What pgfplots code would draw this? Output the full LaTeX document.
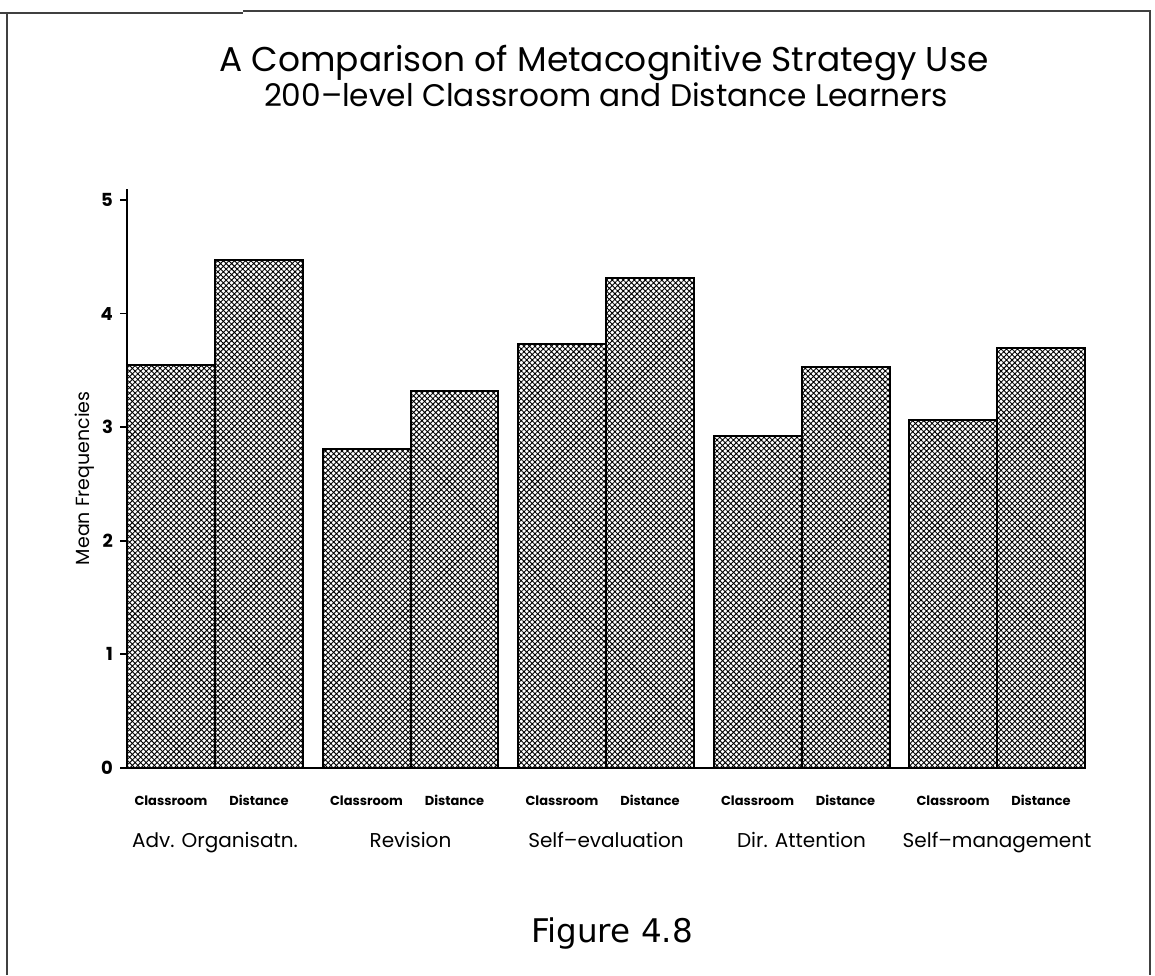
\documentclass[border=0pt]{standalone}
\usepackage{fontspec}
\setmainfont{Poppins}
\newfontfamily\figfont{DejaVu Sans}
\usepackage{pgfplots}
\usepackage{pgfplotstable}
\pgfplotsset{compat=1.18}
\usetikzlibrary{patterns.meta}

\pgfplotstableread{
x cls dst
0 3.55 4.47
1 2.81 3.32
2 3.73 4.31
3 2.92 3.53
4 3.06 3.70
}\datatable

\newcommand{\catfont}{\mdseries\fontsize{10}{12}\selectfont}

\begin{document}
\begin{tikzpicture}
\useasboundingbox (0,0) rectangle (577.5pt,487.5pt);
% frame
\draw[line width=1pt, black!75] (0,481pt) -- (121.5pt,481pt);
\draw[line width=0.8pt, black!75] (121.5pt,482pt) -- (575pt,482pt) -- (575pt,0);
\draw[line width=1pt, black!75] (3.5pt,0) -- (3.5pt,481pt);

\begin{axis}[
  at={(63.5pt,103.5pt)}, anchor=south west,
  scale only axis, width=479.5pt, height=289.7pt,
  xmin=-0.45, xmax=4.455, ymin=0, ymax=5.1,
  axis lines=left, axis line style={-, line width=1pt},
  ytick={0,1,2,3,4,5},
  tick align=outside,
  major tick length=3.5pt,
  y tick style={line width=0.9pt, black},
  x tick style={draw=none},
  xtick={-0.225,0.225,0.775,1.225,1.775,2.225,2.775,3.225,3.775,4.225},
  xticklabels={Classroom,Distance,Classroom,Distance,Classroom,Distance,Classroom,Distance,Classroom,Distance},
  x tick label style={font=\bfseries\fontsize{6.5}{7}\selectfont, anchor=base, yshift=-15pt},
  extra x ticks={0,1,2,3,4},
  extra x tick labels={{\catfont Adv. Organisatn.},{\catfont Revision},{\catfont Self–evaluation},{\catfont Dir. Attention},{\catfont Self–management}},
  extra x tick style={tick label style={yshift=-21pt}},
  y tick label style={font=\bfseries\fontsize{9}{10}\selectfont},
  /pgf/number format/assume math mode=true,
  ylabel={Mean Frequencies},
  ylabel style={font=\fontsize{9.5}{11}\selectfont, at={(axis description cs:-0.044,0.5)}, anchor=center},
  clip=false,
]
\addplot[ybar, bar width=0.45, bar shift=0pt, draw=black, line width=1pt,
  pattern={Hatch[angle=45,distance=1.95pt,line width=0.45pt]}, pattern color=black]
  table[x expr=\thisrow{x}-0.225, y=cls] {\datatable};
\addplot[ybar, bar width=0.45, bar shift=0pt, draw=black, line width=1pt,
  pattern={Hatch[angle=45,distance=1.95pt,line width=0.45pt]}, pattern color=black]
  table[x expr=\thisrow{x}+0.225, y=dst] {\datatable};
\end{axis}

\node[anchor=base, font=\fontsize{17.2}{20}\selectfont] at (302pt,451.5pt) {A Comparison of Metacognitive Strategy Use};
\node[anchor=base, font=\fontsize{15.6}{18}\selectfont] at (303pt,434pt) {200–level Classroom and Distance Learners};
\node[anchor=base, font=\figfont\fontsize{16.3}{19}\selectfont] at (306pt,16.5pt) {Figure 4.8};
\end{tikzpicture}
\end{document}
